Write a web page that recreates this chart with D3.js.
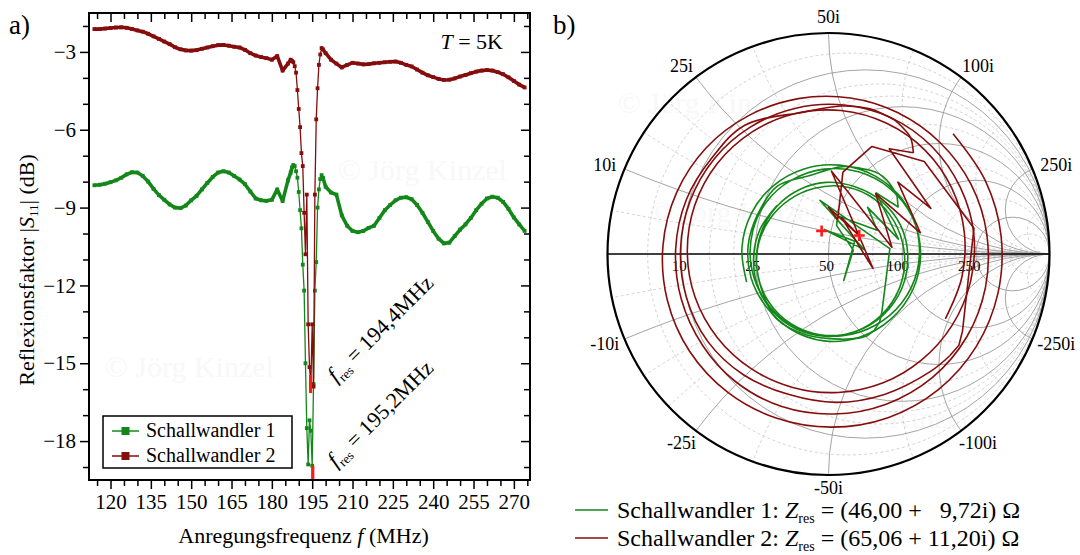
<!DOCTYPE html>
<html>
<head>
<meta charset="utf-8">
<script src="https://cdn.jsdelivr.net/npm/d3@7"></script>
<style>
body { margin: 0; background: #fff; }
svg text { font-family: "Liberation Serif", "DejaVu Serif", serif; fill: #000; }
</style>
</head>
<body>
<svg id="chart" width="1080" height="555"></svg>
<script>
// measured frequencies (MHz), denser around the resonance
var freq = [114,116,118,120,122,124,126,128,130,132,134,136,138,140,142,144,146,148,150,152,154,156,158,160,162,164,166,168,170,172,174,176,178,180,182,184,186,
  187,187.5,188,188.5,189,189.5,190,190.5,191,191.5,192,192.5,193,193.5,194,194.5,195,195.5,196,196.5,197,197.5,198,198.5,199,
  200,202,204,206,208,210,212,214,216,218,220,222,224,226,228,230,232,234,236,238,240,242,244,246,248,250,252,254,256,258,260,262,264,266,268,270,272,274];

// |S11| in dB
var s11Green = [-8.14,-8.12,-8.08,-8.02,-7.95,-7.85,-7.72,-7.64,-7.65,-7.78,-8.00,-8.28,-8.52,-8.70,-8.88,-9.00,-9.02,-8.92,-8.72,-8.55,-8.30,-8.05,-7.82,-7.65,-7.60,-7.65,-7.78,-7.92,-8.10,-8.38,-8.65,-8.72,-8.74,-8.70,-8.30,-8.75,-7.95,
  -7.65,-7.45,-7.36,-7.40,-7.60,-7.85,-8.40,-9.10,-9.80,-11.20,-12.20,-15.00,-17.50,-18.90,-17.20,-17.60,-18.95,-15.80,-12.20,-11.10,-9.00,-8.30,-7.90,-7.75,-7.85,
  -8.20,-8.42,-8.50,-9.30,-9.70,-9.90,-9.95,-9.90,-9.78,-9.70,-9.40,-9.10,-8.90,-8.72,-8.62,-8.60,-8.68,-8.90,-9.20,-9.55,-9.90,-10.20,-10.38,-10.35,-10.10,-9.85,-9.65,-9.40,-9.10,-8.85,-8.65,-8.58,-8.62,-8.78,-9.05,-9.38,-9.65,-9.90];
var s11Red = [-2.12,-2.12,-2.10,-2.08,-2.06,-2.05,-2.07,-2.12,-2.17,-2.22,-2.30,-2.40,-2.50,-2.60,-2.70,-2.82,-2.90,-2.94,-2.95,-2.93,-2.88,-2.83,-2.78,-2.74,-2.73,-2.76,-2.80,-2.83,-2.92,-3.05,-3.14,-3.20,-3.24,-3.30,-3.16,-3.72,-3.45,
  -3.30,-3.35,-3.40,-3.55,-3.80,-4.47,-5.20,-5.90,-6.90,-7.40,-9.20,-10.80,-8.50,-13.50,-15.15,-15.80,-13.50,-15.90,-8.50,-5.60,-4.40,-3.50,-3.10,-2.85,-2.90,
  -3.05,-3.30,-3.45,-3.60,-3.50,-3.42,-3.45,-3.48,-3.47,-3.44,-3.42,-3.40,-3.38,-3.37,-3.42,-3.50,-3.56,-3.68,-3.80,-3.90,-3.97,-4.04,-4.08,-4.07,-4.02,-3.95,-3.89,-3.82,-3.76,-3.72,-3.70,-3.72,-3.78,-3.86,-3.98,-4.12,-4.26,-4.37];

// phase of S11 in degrees (Smith chart)
var phaseGreen = [-161,176,152,129,106,83,59,36,13,-11,-34,-57,-80,-104,-127,-150,-174,163,140,117,93,70,47,24,0,-23,-46,-70,-93,-116,-139,-163,174,151,127,104,81,
  69,63,58,52,46,40,34,52,12,50,26,77,74,9,-60,26,100,7,99,5,-47,-53,-59,-65,-70,
  -82,-105,-129,-152,-175,162,138,115,92,68,45,22,-1,-25,-48,-71,-95,-118,-141,-164,172,149,126,102,79,56,33,9,-14,-37,-60,-84,-107,-130,-154,-177,160,137];
var phaseRed = [44,25,6,-13,-32,-51,-70,-89,-108,-126,-145,-164,177,158,139,120,101,82,64,45,26,7,-12,-31,-50,-69,-88,-107,-126,-144,-163,178,159,140,123,100,85,
  74,69,64,60,55,50,60,24,46,13,52,6,88,-18,70,31,90,75,80,68,44,10,-30,-35,-40,
  -49,-68,-87,-106,-125,-144,-163,178,159,140,122,103,84,65,46,27,8,-11,-30,-49,-67,-86,-105,-124,-143,-162,179,160,141,122,104,85,66,47,28,9,-10,-29];

var seriesNames = ["Schallwandler 1", "Schallwandler 2"];
var resFreq = [195.2, 194.4];
var resDb = [-19.3, -15.8];
var resZ = [[46.00, 9.72], [65.06, 11.20]];
var resFreqText = ["195,2MHz", "194,4MHz"];
var resZText = ["(46,00 +   9,72i) \u03A9", "(65,06 + 11,20i) \u03A9"];

var xTicks = [120,135,150,165,180,195,210,225,240,255,270];
var yTicks = [-3,-6,-9,-12,-15,-18];
var smithR = [10,25,50,100,250];
var smithRMinor = [5,15,20,35,75,150,500];
var smithX = [10,25,50,100,250];
var smithXMinor = [5,15,20,35,75,150,500];
var z0 = 50;

var colors = ["#14871a", "#860d0d"];

var svg = d3.select("#chart");
svg.append("rect").attr("width",1080).attr("height",555).attr("fill","#fff");

// watermarks
[[105,377],[338,180],[618,113],[650,222],[800,428]].forEach(function(p){
  svg.append("text").attr("x",p[0]).attr("y",p[1]).attr("font-size",30)
    .style("fill","#f8f8f8").text("\u00A9 J\u00F6rg Kinzel");
});

// ================= panel a =================
var pL = 89, pR = 530, pT = 13, pB = 480;
var x = d3.scaleLinear().domain([112,276]).range([pL,pR]);
var y = d3.scaleLinear().domain([-19.5,-1.5]).range([pB,pT]);

var defs = svg.append("defs");
defs.append("clipPath").attr("id","clipA").append("rect")
  .attr("x",pL).attr("y",pT).attr("width",pR-pL).attr("height",pB-pT);

var xMinor = d3.range(115,276,5).filter(function(v){ return xTicks.indexOf(v) < 0; });
var yMinor = d3.range(-19,-1,1).filter(function(v){ return yTicks.indexOf(v) < 0; });

var gA = svg.append("g");
gA.append("g").attr("transform","translate(0,"+pB+")")
  .call(d3.axisBottom(x).tickValues(xTicks).tickSize(9).tickPadding(5));
gA.append("g").attr("transform","translate(0,"+pB+")")
  .call(d3.axisBottom(x).tickValues(xMinor).tickSize(6).tickFormat(""));
gA.append("g").attr("transform","translate("+pL+",0)")
  .call(d3.axisLeft(y).tickValues(yTicks).tickSize(9).tickPadding(4).tickFormat(d3.format("d")));
gA.append("g").attr("transform","translate("+pL+",0)")
  .call(d3.axisLeft(y).tickValues(yMinor).tickSize(6).tickFormat(""));
gA.append("g").attr("transform","translate(0,"+pT+")")
  .call(d3.axisTop(x).tickValues(xTicks).tickSize(-9).tickFormat(""));
gA.append("g").attr("transform","translate(0,"+pT+")")
  .call(d3.axisTop(x).tickValues(xMinor).tickSize(-6).tickFormat(""));
gA.append("g").attr("transform","translate("+pR+",0)")
  .call(d3.axisRight(y).tickValues(yTicks).tickSize(-9).tickFormat(""));
gA.append("g").attr("transform","translate("+pR+",0)")
  .call(d3.axisRight(y).tickValues(yMinor).tickSize(-6).tickFormat(""));
gA.selectAll(".domain").remove();
gA.selectAll(".tick line").attr("stroke","#000").attr("stroke-width",1.5);
gA.selectAll(".tick text").attr("font-size",21).attr("font-family","Liberation Serif");

// data
var dataA = [s11Green, s11Red].map(function(vals){
  return freq.map(function(f,i){ return {f:f, v:vals[i]}; });
});
var plotA = gA.append("g").attr("clip-path","url(#clipA)");
var lineA = d3.line().x(function(d){ return x(d.f); }).y(function(d){ return y(d.v); });
dataA.forEach(function(d,k){
  // densely sampled parts read as a solid band of markers
  [d.filter(function(p){ return p.f <= 188; }), d.filter(function(p){ return p.f >= 199; })].forEach(function(seg){
    plotA.append("path").datum(seg).attr("d",lineA).attr("fill","none")
      .attr("stroke",colors[k]).attr("stroke-width",3.6).attr("stroke-linejoin","round");
  });
  plotA.append("path").datum(d).attr("d",lineA).attr("fill","none")
    .attr("stroke",colors[k]).attr("stroke-width",1.3);
  plotA.selectAll(null).data(d).enter().append("rect")
    .attr("x",function(p){ return x(p.f)-1.9; }).attr("y",function(p){ return y(p.v)-1.9; })
    .attr("width",3.8).attr("height",3.8).attr("fill",colors[k]);
});
// resonance markers
resFreq.forEach(function(f,k){
  plotA.append("rect").attr("x",x(f)-1.6).attr("y",y(resDb[k])-9)
    .attr("width",3.2).attr("height",18).attr("fill","#ff1a1a");
});

gA.append("rect").attr("x",pL).attr("y",pT).attr("width",pR-pL).attr("height",pB-pT)
  .attr("fill","none").attr("stroke","#000").attr("stroke-width",2);

// labels
svg.append("text").attr("x",9).attr("y",34).attr("font-size",27).text("a)");
var tT = svg.append("text").attr("x",503).attr("y",49).attr("font-size",22).attr("text-anchor","end");
tT.append("tspan").attr("font-style","italic").text("T");
tT.append("tspan").text(" = 5K");

var xt = svg.append("text").attr("x",(pL+pR)/2-6).attr("y",543).attr("font-size",22).attr("text-anchor","middle");
xt.append("tspan").text("Anregungsfrequenz ");
xt.append("tspan").attr("font-style","italic").text("f");
xt.append("tspan").text(" (MHz)");

var yt = svg.append("text").attr("transform","translate(34,270) rotate(-90)").attr("font-size",22).attr("text-anchor","middle");
yt.append("tspan").text("Reflexionsfaktor |");
yt.append("tspan").attr("font-style","italic").text("S");
yt.append("tspan").attr("font-size",13).attr("dy",4).text("11");
yt.append("tspan").attr("dy",-4).text("| (dB)");

// f_res annotations
[[336,468],[336,383]].forEach(function(p,k){
  var t = svg.append("text").attr("transform","translate("+p[0]+","+p[1]+") rotate(-45)").attr("font-size",22);
  t.append("tspan").attr("font-style","italic").text("f");
  t.append("tspan").attr("font-size",13).attr("dy",5).text("res");
  t.append("tspan").attr("dy",-5).text(" = " + resFreqText[k]);
});

// legend a
var lg = svg.append("g");
lg.append("rect").attr("x",103).attr("y",416).attr("width",189).attr("height",52)
  .attr("fill","#fff").attr("stroke","#000").attr("stroke-width",1.5);
seriesNames.forEach(function(n,k){
  var yy = 431 + k*25;
  lg.append("line").attr("x1",112).attr("x2",139).attr("y1",yy).attr("y2",yy)
    .attr("stroke",colors[k]).attr("stroke-width",1.5);
  lg.append("rect").attr("x",121.5).attr("y",yy-4).attr("width",8).attr("height",8).attr("fill",colors[k]);
  lg.append("text").attr("x",146).attr("y",yy+6).attr("font-size",20).text(n);
});

// ================= panel b (Smith chart) =================
var cx = 828.5, cy = 254, R = 221;
var gx = d3.scaleLinear().domain([-1,1]).range([cx-R,cx+R]);
var gy = d3.scaleLinear().domain([-1,1]).range([cy+R,cy-R]);
defs.append("clipPath").attr("id","clipB").append("circle").attr("cx",cx).attr("cy",cy).attr("r",R);

var gB = svg.append("g");
var grid = gB.append("g").attr("clip-path","url(#clipB)");
function drawGrid(rs, xs, dashed){
  var st = dashed ? {c:"#c8c8c8", w:0.8, d:"3,2.5"} : {c:"#9a9a9a", w:0.9, d:null};
  rs.forEach(function(ohm){
    var r = ohm/z0;
    grid.append("circle").attr("cx",gx(r/(r+1))).attr("cy",cy).attr("r",R/(r+1))
      .attr("fill","none").attr("stroke",st.c).attr("stroke-width",st.w).attr("stroke-dasharray",st.d);
  });
  xs.forEach(function(ohm){
    var xx = ohm/z0;
    [1,-1].forEach(function(s){
      grid.append("circle").attr("cx",gx(1)).attr("cy",gy(s/xx)).attr("r",R/xx)
        .attr("fill","none").attr("stroke",st.c).attr("stroke-width",st.w).attr("stroke-dasharray",st.d);
    });
  });
}
drawGrid(smithRMinor, smithXMinor, true);
drawGrid(smithR, smithX, false);

gB.append("line").attr("x1",gx(-1)).attr("x2",gx(1)).attr("y1",cy).attr("y2",cy)
  .attr("stroke","#000").attr("stroke-width",1.6);
gB.append("circle").attr("cx",cx).attr("cy",cy).attr("r",R)
  .attr("fill","none").attr("stroke","#000").attr("stroke-width",2.2);

// resistance labels
smithR.forEach(function(ohm){
  var r = ohm/z0, g = (r-1)/(r+1);
  gB.append("text").attr("x",gx(g)-2-(g>0?7*g:0)).attr("y",cy+17).attr("font-size",15)
    .attr("text-anchor","middle").text(ohm);
});
// reactance labels
smithX.forEach(function(ohm){
  var xx = ohm/z0;
  [1,-1].forEach(function(s){
    var th = s*(Math.PI - 2*Math.atan(xx));
    var lab = (s<0?"-":"") + ohm + "i";
    var w = String(ohm).length*9;
    var rr = R + 10 + 6*Math.abs(Math.sin(th));
    var px = cx + rr*Math.cos(th) + Math.cos(th)*w/2;
    var py = cy - rr*Math.sin(th) - (s < 0 && Math.abs(Math.cos(th)) < 0.1 ? 3 : 0);
    gB.append("text").attr("x",px).attr("y",py).attr("dy","0.35em").attr("font-size",18)
      .attr("text-anchor","middle").text(lab);
  });
});

// traces: smooth where the sweep is sparse, straight segments around the resonance
var lineSmooth = d3.line().x(function(d){ return gx(d[0]); }).y(function(d){ return gy(d[1]); })
  .curve(d3.curveCatmullRom.alpha(0.5));
var lineSharp = d3.line().x(function(d){ return gx(d[0]); }).y(function(d){ return gy(d[1]); });
var i0 = freq.indexOf(189.5), i1 = freq.indexOf(199);
[[s11Green, phaseGreen],[s11Red, phaseRed]].forEach(function(sp,k){
  var pts = sp[0].map(function(db,i){
    var m = Math.pow(10, db/20), a = sp[1][i]*Math.PI/180;
    return [m*Math.cos(a), m*Math.sin(a)];
  });
  [[pts.slice(0,i0+1), lineSmooth],[pts.slice(i0,i1+1), lineSharp],[pts.slice(i1), lineSmooth]].forEach(function(seg){
    gB.append("path").datum(seg[0]).attr("d",seg[1]).attr("fill","none")
      .attr("stroke",colors[k]).attr("stroke-width",1.6).attr("stroke-linejoin","round");
  });
});
// resonance points
resZ.forEach(function(z){
  var a = z[0]/z0, b = z[1]/z0;
  var den = (a+1)*(a+1) + b*b;
  var gr = ((a-1)*(a+1) + b*b)/den, gi = (b*(a+1) - (a-1)*b)/den;
  var px = gx(gr), py = gy(gi);
  gB.append("path").attr("d","M"+(px-5.5)+","+py+"H"+(px+5.5)+"M"+px+","+(py-5.5)+"V"+(py+5.5))
    .attr("stroke","#ff1a1a").attr("stroke-width",2.6);
});

svg.append("text").attr("x",553).attr("y",34).attr("font-size",27).text("b)");

// legend b
seriesNames.forEach(function(n,k){
  var yy = 510 + k*28;
  svg.append("line").attr("x1",575).attr("x2",608).attr("y1",yy).attr("y2",yy)
    .attr("stroke",colors[k]).attr("stroke-width",1.6);
  var t = svg.append("text").attr("x",617).attr("y",yy+8).attr("font-size",24).style("white-space","pre");
  t.append("tspan").text(n + ": ");
  t.append("tspan").attr("font-style","italic").text("Z");
  t.append("tspan").attr("font-size",14).attr("dy",5).text("res");
  t.append("tspan").attr("dy",-5).text(" = " + resZText[k]);
});
</script>
</body>
</html>
